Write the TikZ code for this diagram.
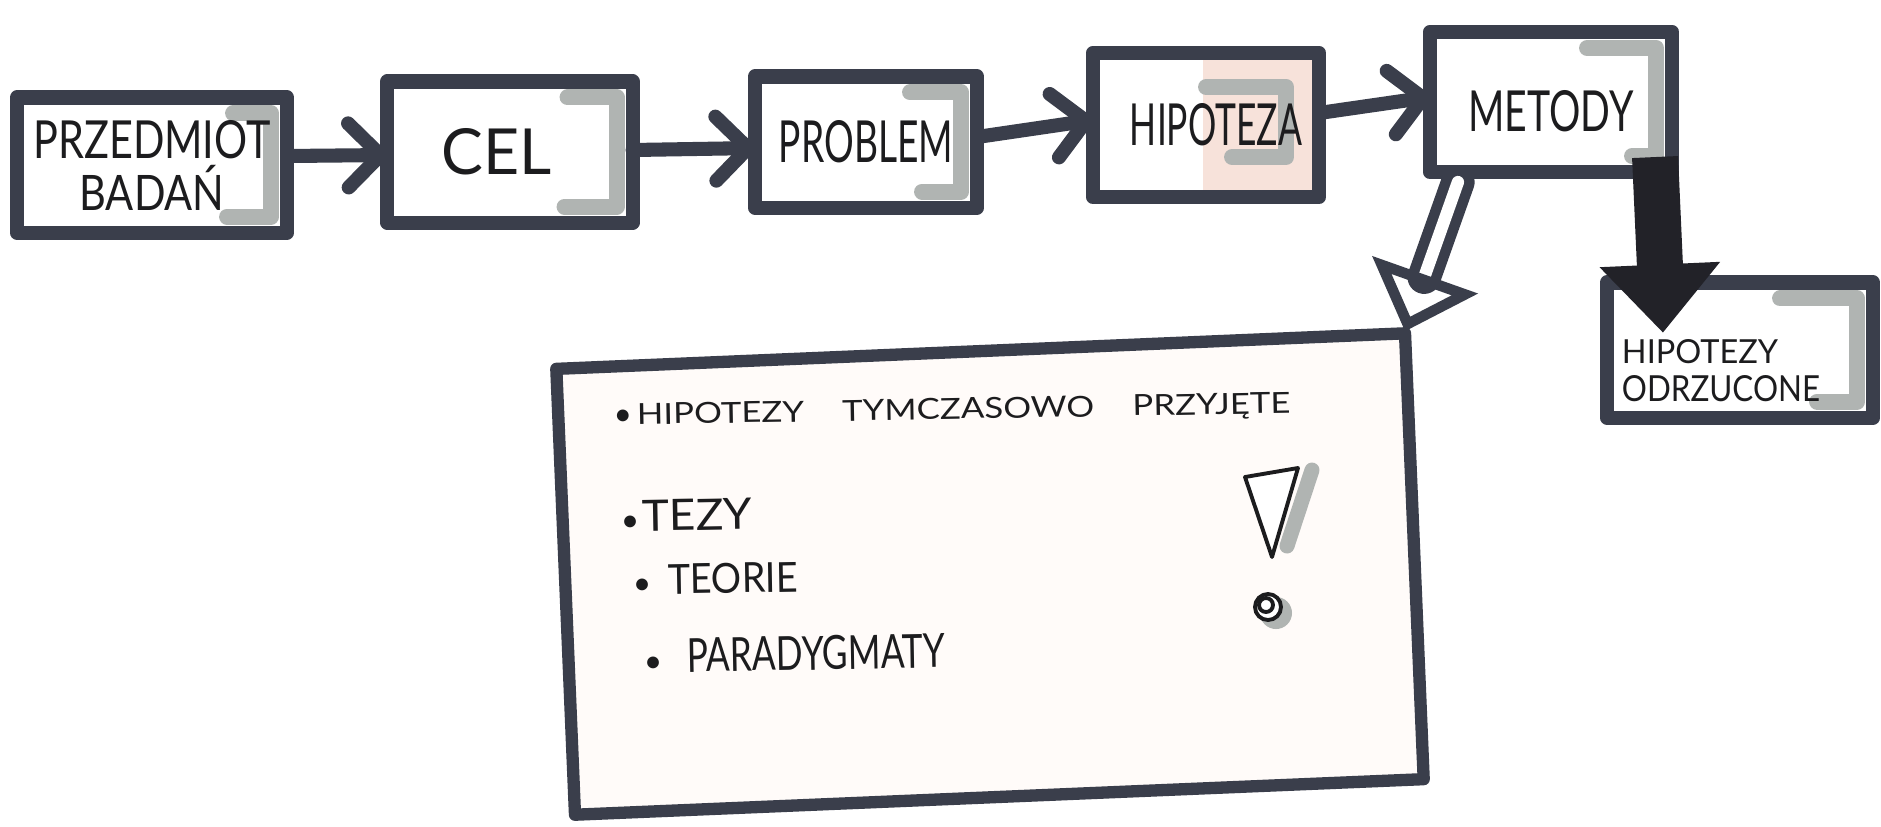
\documentclass[tikz,border=0pt]{standalone}
\usepackage{fontspec}
\setmainfont{Lato}
\usepackage{graphicx}
\usetikzlibrary{arrows.meta,calc,backgrounds}
\definecolor{ink}{RGB}{58,62,75}
\definecolor{shd}{RGB}{176,180,178}
\definecolor{pinkfill}{RGB}{247,226,218}
\definecolor{blk}{RGB}{34,34,40}
\definecolor{paperpink}{RGB}{255,251,249}
\definecolor{pen}{RGB}{28,28,30}
\newcommand{\hw}[3]{\resizebox{#1}{#2}{#3}}
\newcommand{\dotb}{\makebox[0.2cm][c]{\fontsize{9pt}{9pt}\selectfont\textbullet}}
\newcommand{\boxshade}[3]{\draw[shadeline] ($(#1.north east)+(-#2,16)$) -- ($(#1.north east)+(-16,16)$) -- ($(#1.south east)+(-16,-16)$) -- ($(#1.south east)+(-#3,-16)$);}
\begin{document}
\begin{tikzpicture}[x=0.01cm, y=-0.01cm,
  box/.style={draw=ink, line width=4pt, line join=round, inner sep=0pt, outer sep=0pt, align=center, text=pen},
  flow/.style={draw=ink, line width=4pt, line cap=round, -{Straight Barb[length=3.2mm, width=6.4mm, line join=round, line cap=round]}},
  dbl/.style={draw=ink, line width=3pt, double=white, double distance=3.5pt, line cap=round, -{Triangle[open, length=6mm, width=11mm, line width=3pt]}},
  bigarrow/.style={draw=blk, line width=0.46cm, -{Triangle[length=6.8mm, width=12mm, line width=1pt]}},
  shadeline/.style={draw=shd, line width=0.16cm, line join=round, line cap=round},
  item/.style={anchor=west, inner sep=0pt, outer sep=0pt, text=pen, rotate=1},
  pentip/.style={draw=pen, line width=1.1pt, line join=round}]
\useasboundingbox (0,0) rectangle (1881,826);

% large box
\node[box, fill=paperpink, line width=3.5pt, minimum width=8.49cm, minimum height=4.46cm, rotate=2.4] (big) at (990,574) {};

% flow boxes
\node[box, minimum width=2.70cm, minimum height=1.35cm] (b1) at (152,165)
  {\hw{2.37cm}{0.38cm}{PRZEDMIOT}\\[2.8pt]\hw{1.45cm}{0.35cm}{BADA\smash{Ń}}};
\node[box, minimum width=2.45cm, minimum height=1.41cm] (cel) at (510,152) {\hw{1.10cm}{0.46cm}{CEL}\hspace{0.26cm}};
\node[box, minimum width=2.22cm, minimum height=1.31cm] (problem) at (866,142) {\hw{1.74cm}{0.42cm}{PROBLEM}};
\node[box, minimum width=2.26cm, minimum height=1.44cm] (hip) at (1206,125) {\hspace{0.2cm}\hw{1.72cm}{0.42cm}{HIPOTEZA}};
\node[box, minimum width=2.42cm, minimum height=1.40cm] (metody) at (1551,102)
  {\raisebox{0pt}[\dimexpr\height+0.18cm\relax][\depth]{\hw{1.65cm}{0.41cm}{METODY}}};
\node[box, minimum width=2.66cm, minimum height=1.35cm] (odrz) at (1740,350)
  {\raisebox{0pt}[\dimexpr\height+0.48cm\relax][\depth]{\begin{tabular}{@{}l@{}}\hw{1.56cm}{0.24cm}{HIPOTEZY}\\[-1.2pt]\hw{1.98cm}{0.26cm}{ODRZUCONE}\end{tabular}}\hspace{0.38cm}};

% background: paper, pink patch and marker shadows
\begin{scope}[on background layer]
  \fill[white] (0,0) rectangle (1881,826);
  \fill[pinkfill] ($(hip.north west)+(110,0)$) rectangle (hip.south east);
  \boxshade{b1}{54}{60}
  \boxshade{cel}{65}{68}
  \boxshade{problem}{67}{55}
  \boxshade{metody}{85}{40}
  \boxshade{odrz}{93}{56}
  \draw[shadeline] ($(hip.north east)+(-113,34)$) -- ($(hip.north east)+(-33,34)$) -- ($(hip.south east)+(-33,-40)$) -- ($(hip.south east)+(-87,-40)$);
\end{scope}

% connectors
\draw[flow] ($(b1.east)+(0,-9)$) -- ($(cel.west)+(0,3)$);
\draw[flow] ($(cel.east)+(0,-2)$) -- ($(problem.west)+(0,6)$);
\draw[flow] ($(problem.east)+(0,-5)$) -- ($(hip.west)+(0,-5)$);
\draw[flow] ($(hip.east)+(0,-12)$) -- ($(metody.west)+(0,-5)$);
\draw[dbl] ($(metody.south west)+(28,10)$) -- ($(big.north east)+(0,-2)$);
\draw[bigarrow] ($(metody.south east)+(-17,-15)$) -- ($(odrz.north west)+(56,50)$);

% list in the large box
\node[item] (t1) at (613,417) {\dotb\hspace{0.04cm}\hw{6.53cm}{0.21cm}{HIPOTEZY\hspace{1.1em}TYMCZASOWO\hspace{1.1em}PRZYJĘTE}};
\node[item] (t2) at (620,516) {\dotb\hspace{0.02cm}\hw{1.10cm}{0.31cm}{TEZY}};
\node[item] (t3) at (632,580) {\dotb\hspace{0.16cm}\hw{1.30cm}{0.30cm}{TEORIE}};
\node[item] (t4) at (643,656) {\dotb\hspace{0.24cm}\hw{2.58cm}{0.34cm}{PARADYGMATY}};

% exclamation mark
\draw[shadeline, line width=0.15cm] (1312,470) -- (1287,546);
\draw[pentip, fill=white] (1245,477) -- (1298,468) -- (1272,557) -- cycle;
\fill[shd] (1276,613) circle (0.16cm);
\draw[pentip, fill=white] (1268,607) circle (0.13cm);
\draw[pentip] (1266,605) circle (0.07cm);
\end{tikzpicture}
\end{document}
